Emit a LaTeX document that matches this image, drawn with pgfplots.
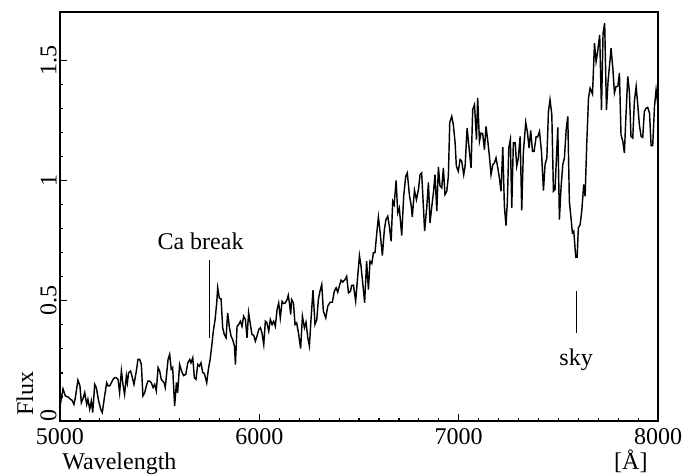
\documentclass[border=0pt]{standalone}
\usepackage{fontspec}
\setmainfont{Liberation Serif}
\usepackage{pgfplots}
\pgfplotsset{compat=1.18}
\begin{document}
\begin{tikzpicture}
\begin{axis}[
  scale only axis, width=249.2pt, height=170.4pt,
  xmin=5000, xmax=8000, ymin=0, ymax=1.702,
  axis line style={line width=0.5pt},
  xtick={5000,6000,7000,8000}, xticklabels={5000,6000,7000,8000},
  ytick={0,0.5,1,1.5}, yticklabels={{\hspace{4.7pt}0},0.5,1,1.5},
  minor x tick num=9, minor y tick num=4,
  xtick pos=bottom, ytick pos=left, tick align=inside,
  major tick length=2.8pt, minor tick length=1.4pt,
  tick style={line width=0.5pt, black},
  /pgf/number format/assume math mode=true,
  xticklabel style={inner sep=2.9pt},
  yticklabel style={rotate=90, anchor=south, inner sep=1.2pt},
  clip=true,
]
\addplot[black, line width=0.6pt] coordinates {
(5000,0.06) (5008,0.10) (5015,0.134) (5027,0.104) (5040,0.100) (5052,0.090) (5060,0.087) (5070,0.069) (5077,0.097) (5090,0.170)
(5100,0.146) (5107,0.076) (5117,0.097) (5124,0.118) (5134,0.069) (5140,0.090) (5149,0.049) (5157,0.083) (5164,0.035) (5174,0.152)
(5182,0.139) (5194,0.083) (5204,0.049) (5212,0.035) (5224,0.104) (5234,0.159) (5241,0.146) (5249,0.146) (5258,0.159) (5266,0.173)
(5274,0.180) (5283,0.180) (5291,0.173) (5299,0.118) (5308,0.208) (5316,0.152) (5324,0.111) (5333,0.187) (5338,0.159) (5344,0.201)
(5354,0.208) (5361,0.187) (5371,0.152) (5383,0.208) (5391,0.256) (5400,0.256) (5408,0.236) (5416,0.104) (5425,0.118) (5433,0.146)
(5441,0.166) (5450,0.166) (5458,0.159) (5467,0.139) (5475,0.152) (5483,0.125) (5492,0.222) (5500,0.208) (5508,0.173) (5522,0.159)
(5528,0.139) (5542,0.256) (5550,0.277) (5558,0.215) (5565,0.222) (5575,0.062) (5584,0.160) (5590,0.117) (5600,0.235) (5610,0.207)
(5620,0.189) (5631,0.194) (5641,0.242) (5651,0.256) (5657,0.242) (5666,0.263) (5674,0.180) (5682,0.173) (5691,0.235) (5699,0.228)
(5707,0.242) (5716,0.201) (5724,0.198) (5736,0.159) (5744,0.214) (5753,0.256) (5761,0.311) (5769,0.374) (5778,0.422) (5786,0.491)
(5791,0.554) (5799,0.512) (5808,0.508) (5816,0.388) (5824,0.360) (5833,0.346) (5841,0.450) (5850,0.388) (5858,0.353) (5866,0.339)
(5875,0.311) (5880,0.235) (5888,0.394) (5896,0.401) (5905,0.415) (5913,0.394) (5921,0.436) (5930,0.422) (5938,0.346) (5946,0.450)
(5955,0.401) (5963,0.360) (5972,0.356) (5980,0.332) (5988,0.353) (5997,0.381) (6005,0.388) (6013,0.367) (6022,0.318) (6030,0.415)
(6038,0.408) (6047,0.374) (6055,0.422) (6064,0.401) (6072,0.415) (6080,0.394) (6089,0.464) (6097,0.491) (6105,0.429) (6114,0.498)
(6122,0.489) (6130,0.491) (6139,0.505) (6145,0.523) (6152,0.484) (6157,0.443) (6162,0.505) (6171,0.491) (6179,0.401) (6187,0.408)
(6196,0.367) (6207,0.301) (6216,0.436) (6226,0.388) (6234,0.411) (6243,0.346) (6251,0.312) (6259,0.422) (6269,0.544) (6279,0.402)
(6288,0.422) (6296,0.506) (6304,0.540) (6313,0.568) (6321,0.457) (6333,0.429) (6343,0.478) (6355,0.494) (6366,0.494) (6376,0.540)
(6385,0.554) (6393,0.536) (6401,0.561) (6410,0.586) (6418,0.578) (6430,0.589) (6438,0.602) (6447,0.533) (6457,0.540) (6463,0.564)
(6472,0.565) (6483,0.499) (6492,0.589) (6502,0.688) (6510,0.644) (6520,0.561) (6528,0.492) (6538,0.665) (6547,0.547) (6555,0.665)
(6564,0.655) (6572,0.700) (6580,0.700) (6589,0.783) (6597,0.849) (6607,0.775) (6617,0.688) (6627,0.796) (6635,0.838) (6644,0.852)
(6652,0.810) (6661,0.748) (6669,0.914) (6676,0.900) (6686,1.001) (6694,0.866) (6702,0.886) (6714,0.772) (6724,0.935) (6734,1.018)
(6742,1.032) (6753,0.938) (6761,0.900) (6767,0.849) (6778,0.960) (6788,0.921) (6798,0.963) (6806,1.025) (6814,1.032) (6821,0.921)
(6829,0.790) (6840,0.894) (6848,0.993) (6856,0.824) (6865,0.894) (6873,0.949) (6881,1.025) (6890,0.873) (6898,1.057) (6906,0.979)
(6915,0.970) (6923,1.053) (6931,0.942) (6940,0.956) (6948,1.018) (6955,1.243) (6965,1.268) (6973,1.233) (6982,1.157) (6988,1.060)
(6998,1.039) (7007,1.088) (7015,1.081) (7025,1.025) (7032,1.060) (7042,1.219) (7052,1.136) (7062,1.053) (7070,1.295) (7079,1.316)
(7089,1.171) (7095,1.344) (7104,1.164) (7112,1.198) (7120,1.196) (7129,1.129) (7137,1.226) (7145,1.171) (7154,1.101) (7162,1.025)
(7171,1.067) (7179,1.074) (7187,1.095) (7196,1.053) (7204,1.011) (7212,0.956) (7221,1.140) (7229,0.894) (7237,0.813) (7244,0.914)
(7251,1.136) (7259,1.171) (7266,0.887) (7274,1.157) (7283,1.157) (7291,1.060) (7299,1.095) (7308,1.184) (7316,0.877) (7324,1.115)
(7336,1.243) (7344,1.205) (7353,1.136) (7361,1.209) (7370,1.122) (7378,1.122) (7388,1.182) (7396,1.182) (7405,1.205) (7415,1.122)
(7425,0.959) (7433,1.067) (7442,1.094) (7450,1.288) (7458,1.337) (7467,1.274) (7475,0.956) (7483,0.963) (7497,1.222) (7505,0.838)
(7513,0.970) (7522,1.067) (7530,1.094) (7539,1.212) (7547,1.267) (7555,0.914) (7564,0.838) (7570,0.783) (7577,0.790) (7587,0.682)
(7594,0.682) (7600,0.804) (7609,0.817) (7617,0.873) (7627,0.984) (7634,0.935) (7642,1.150) (7651,1.344) (7659,1.385) (7671,1.360)
(7681,1.572) (7689,1.496) (7697,1.538) (7707,1.607) (7716,1.295) (7724,1.614) (7732,1.655) (7741,1.295) (7749,1.413) (7756,1.475)
(7764,1.551) (7773,1.468) (7781,1.365) (7789,1.392) (7798,1.392) (7806,1.448) (7814,1.191) (7823,1.164) (7831,1.115) (7839,1.274)
(7848,1.434) (7856,1.371) (7864,1.184) (7873,1.177) (7881,1.330) (7890,1.392) (7898,1.316) (7906,1.233) (7915,1.184) (7923,1.180)
(7931,1.288) (7940,1.302) (7948,1.305) (7957,1.281) (7965,1.146) (7973,1.146) (7982,1.309) (7990,1.378) (7998,1.323) (8000,1.25)
};
% annotation ticks
\addplot[black, line width=0.45pt] coordinates {(5749,0.347) (5749,0.669)};
\addplot[black, line width=0.45pt] coordinates {(7589,0.368) (7589,0.539)};
\node[anchor=base, inner sep=0pt] at (axis cs:5705,0.713) {Ca break};
\node[anchor=base, inner sep=0pt] at (axis cs:7589,0.231) {sky};
\coordinate (ll) at (rel axis cs:0,0);
\coordinate (ur) at (rel axis cs:1,1);
\coordinate (lr) at (rel axis cs:1,0);
\end{axis}
\node[anchor=base west, inner sep=0pt] at ([xshift=0.8pt,yshift=-20.4pt]ll) {Wavelength};
\node[anchor=base east, inner sep=0pt] at ([xshift=-4.2pt,yshift=-20.4pt]lr) {[Å]};
\node[rotate=90, anchor=base west, inner sep=0pt] at ([xshift=-11.25pt,yshift=1.9pt]ll) {Flux};
\pgfresetboundingbox
\path[use as bounding box] ([xshift=-25pt,yshift=-22.9pt]ll) rectangle ([xshift=13.3pt,yshift=5pt]ur);
\end{tikzpicture}
\end{document}
